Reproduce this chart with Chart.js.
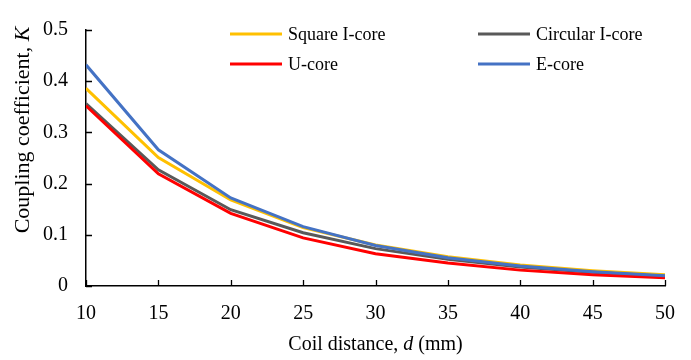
<!DOCTYPE html>
<html>
<head>
<meta charset="utf-8">
<script src="https://cdn.jsdelivr.net/npm/chart.js@4/dist/chart.umd.min.js"></script>
<style>
  html, body { margin: 0; padding: 0; background: #fff; }
  #chart { display: block; }
</style>
</head>
<body>
<canvas id="chart" width="691" height="360"></canvas>
<script>
// coil distance (mm)
const distances = [10, 15, 20, 25, 30, 35, 40, 45, 50];

// coupling coefficient K for each core shape
const squareICore   = [0.386, 0.251, 0.168, 0.114, 0.080, 0.057, 0.041, 0.030, 0.022];
const circularICore = [0.356, 0.227, 0.149, 0.104, 0.073, 0.052, 0.037, 0.027, 0.019];
const uCore         = [0.352, 0.219, 0.142, 0.094, 0.063, 0.045, 0.031, 0.022, 0.016];
const eCore         = [0.432, 0.266, 0.172, 0.116, 0.079, 0.055, 0.039, 0.028, 0.020];

const yTicks = [0, 0.1, 0.2, 0.3, 0.4, 0.5];
const xTicks = [10, 15, 20, 25, 30, 35, 40, 45, 50];

const FONT = "'Liberation Serif', 'Times New Roman', serif";

const toPoints = vals => vals.map((v, i) => ({ x: distances[i], y: v }));

const series = {
  'Square I-core':   { data: squareICore,   color: '#FFC000' },
  'Circular I-core': { data: circularICore, color: '#595959' },
  'U-core':          { data: uCore,         color: '#FF0000' },
  'E-core':          { data: eCore,         color: '#4472C4' }
};

// first dataset is drawn on top in Chart.js
const drawOrder = ['E-core', 'U-core', 'Circular I-core', 'Square I-core'];
const legendRows = [['Square I-core', 'Circular I-core'], ['U-core', 'E-core']];

const datasets = drawOrder.map(name => ({
  label: name,
  data: toPoints(series[name].data),
  borderColor: series[name].color,
  backgroundColor: series[name].color,
  borderWidth: 3,
  pointRadius: 0,
  tension: 0,
  fill: false
}));

// ticks pointing into the plot area
const innerTicks = {
  id: 'innerTicks',
  afterDraw(chart) {
    const { ctx, chartArea, scales } = chart;
    ctx.save();
    ctx.strokeStyle = '#000';
    ctx.lineWidth = 1.3;
    ctx.beginPath();
    yTicks.forEach(v => {
      const y = Math.round(scales.y.getPixelForValue(v)) + 0.5;
      ctx.moveTo(chartArea.left, y);
      ctx.lineTo(chartArea.left + 6, y);
    });
    xTicks.forEach(v => {
      const x = Math.round(scales.x.getPixelForValue(v)) + 0.5;
      ctx.moveTo(x, chartArea.bottom);
      ctx.lineTo(x, chartArea.bottom - 6);
    });
    ctx.stroke();
    ctx.restore();
  }
};

// draws "plain, italic plain" text pieces centred at 0,0
function drawMixed(ctx, parts, size) {
  const fonts = parts.map(p => (p.italic ? 'italic ' : '') + size + 'px ' + FONT);
  let total = 0;
  const widths = parts.map((p, i) => { ctx.font = fonts[i]; const w = ctx.measureText(p.text).width; total += w; return w; });
  let x = -total / 2;
  parts.forEach((p, i) => {
    ctx.font = fonts[i];
    ctx.fillText(p.text, x, 0);
    x += widths[i];
  });
}

// axis titles with italic symbols
const axisTitles = {
  id: 'axisTitles',
  afterDraw(chart) {
    const { ctx, chartArea } = chart;
    ctx.save();
    ctx.fillStyle = '#000';
    ctx.textBaseline = 'middle';
    ctx.textAlign = 'left';

    ctx.save();
    ctx.translate((chartArea.left + chartArea.right) / 2, 345);
    drawMixed(ctx, [
      { text: 'Coil distance, ' },
      { text: 'd', italic: true },
      { text: ' (mm)' }
    ], 20);
    ctx.restore();

    ctx.save();
    ctx.translate(23, 130);
    ctx.rotate(-Math.PI / 2);
    drawMixed(ctx, [
      { text: 'Coupling coefficient, ' },
      { text: 'K', italic: true }
    ], 22);
    ctx.restore();

    ctx.restore();
  }
};

// two-column legend in the upper right of the plot
const gridLegend = {
  id: 'gridLegend',
  afterDraw(chart) {
    const { ctx } = chart;
    const colX = [230, 478];
    const rowY = [34, 64];
    ctx.save();
    ctx.font = '18px ' + FONT;
    ctx.textBaseline = 'middle';
    ctx.fillStyle = '#000';
    legendRows.forEach((row, r) => {
      row.forEach((name, c) => {
        const x = colX[c], y = rowY[r];
        ctx.strokeStyle = series[name].color;
        ctx.lineWidth = 3;
        ctx.beginPath();
        ctx.moveTo(x, y);
        ctx.lineTo(x + 52, y);
        ctx.stroke();
        ctx.fillText(name, x + 58, y + 1);
      });
    });
    ctx.restore();
  }
};

new Chart(document.getElementById('chart'), {
  type: 'line',
  data: { datasets },
  plugins: [innerTicks, axisTitles, gridLegend],
  options: {
    responsive: false,
    animation: false,
    layout: { padding: { left: 0, top: 15, right: 25, bottom: 0 } },
    plugins: {
      legend: { display: false },
      tooltip: { enabled: false }
    },
    scales: {
      x: {
        type: 'linear',
        min: 10,
        max: 50,
        afterBuildTicks: s => { s.ticks = xTicks.map(v => ({ value: v })); },
        afterFit: s => { s.height = 74; },
        grid: { drawOnChartArea: false, drawTicks: false },
        border: { color: '#000', width: 1.5 },
        ticks: { color: '#000', padding: 16, font: { family: FONT, size: 20 } }
      },
      y: {
        min: 0,
        max: 0.5,
        afterBuildTicks: s => { s.ticks = yTicks.map(v => ({ value: v })); },
        afterFit: s => { s.width = 86; },
        grid: { drawOnChartArea: false, drawTicks: false },
        border: { color: '#000', width: 1.5 },
        ticks: { color: '#000', padding: 18, font: { family: FONT, size: 20 } }
      }
    }
  }
});
</script>
</body>
</html>
